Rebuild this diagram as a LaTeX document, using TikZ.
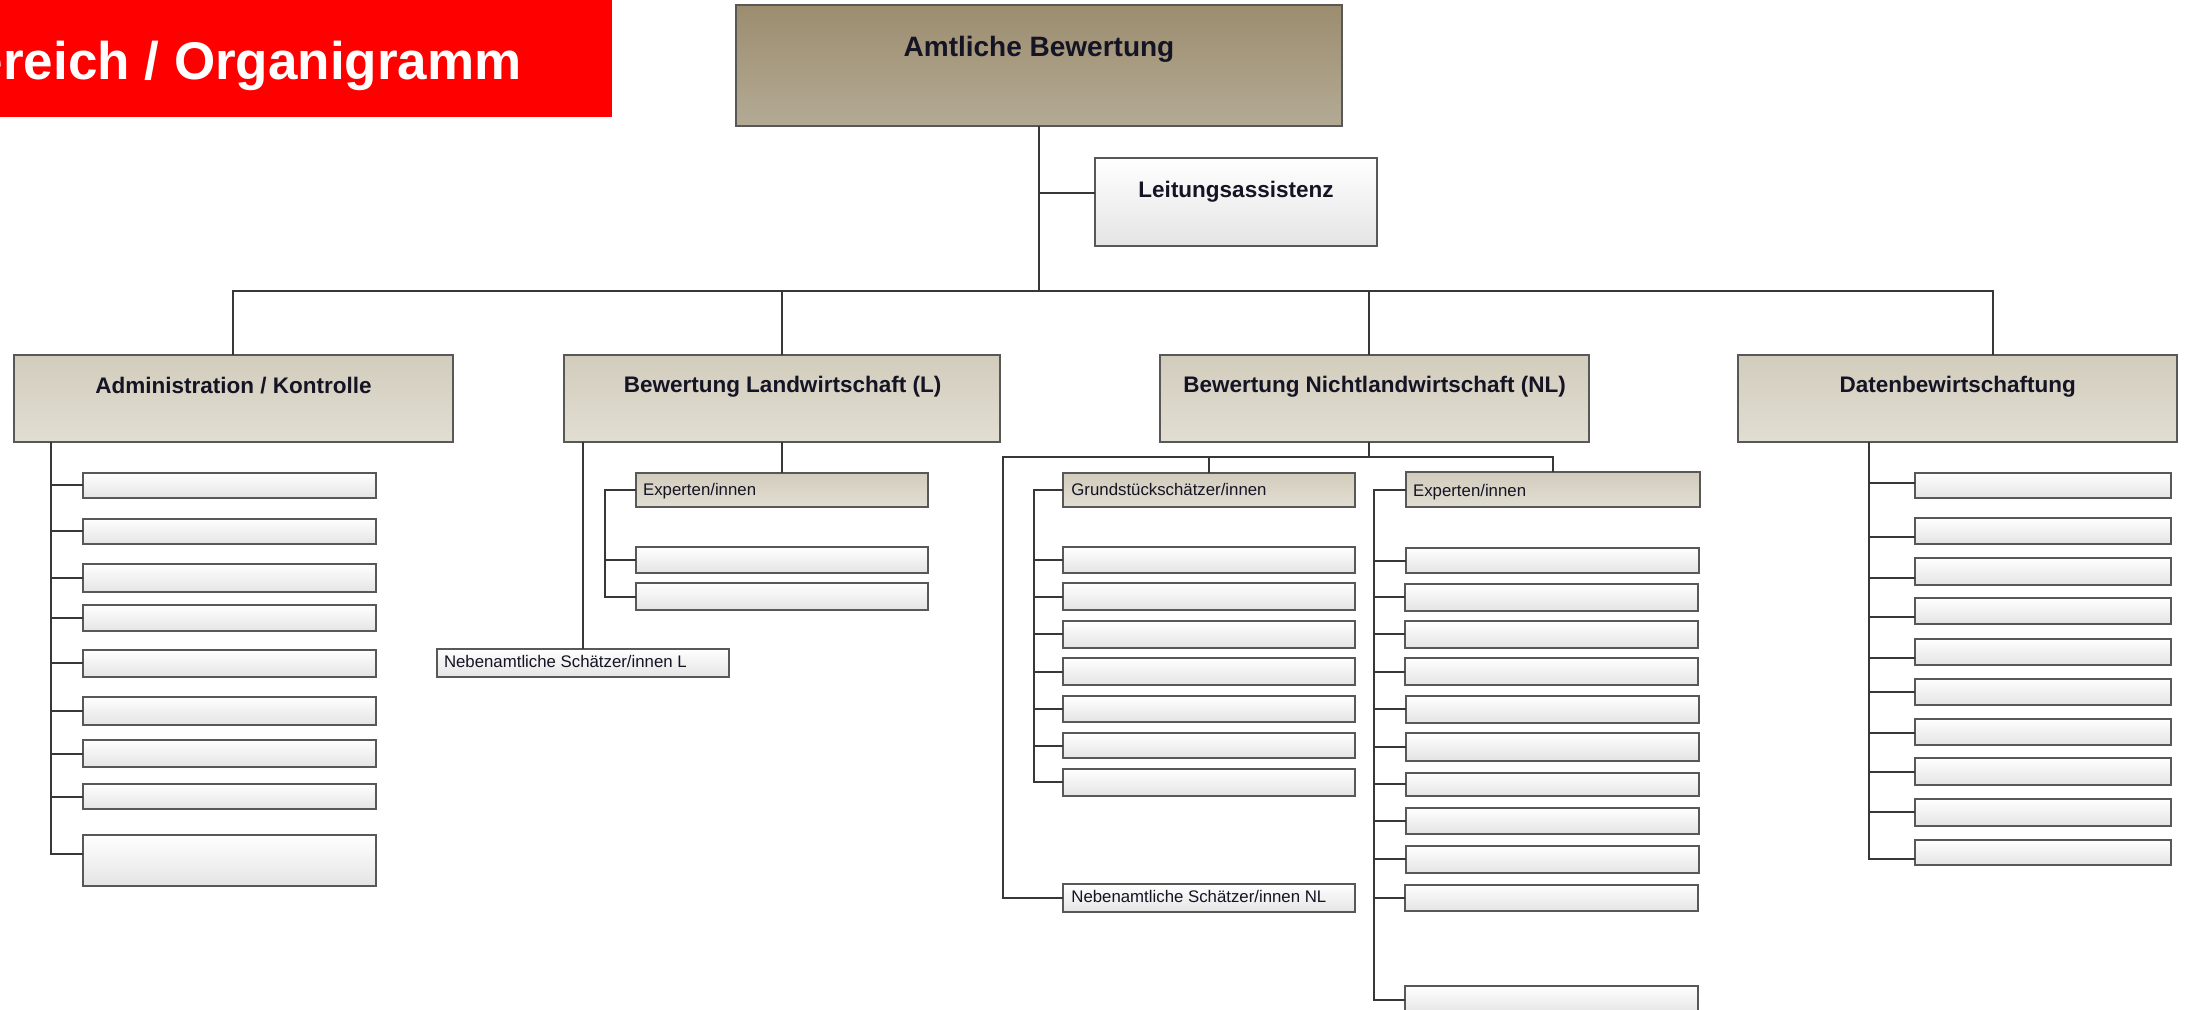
\documentclass[tikz,border=0pt]{standalone}
\usepackage{fontspec}
\setmainfont{Liberation Sans}
\usetikzlibrary{calc}
\definecolor{amtT}{RGB}{156,141,111}
\definecolor{amtB}{RGB}{180,170,148}
\definecolor{hdrT}{RGB}{210,204,188}
\definecolor{hdrB}{RGB}{225,222,210}
\definecolor{whB}{RGB}{228,228,228}
\definecolor{boxline}{RGB}{88,88,88}
\definecolor{connc}{RGB}{55,55,55}
\definecolor{txt}{RGB}{20,20,36}
\definecolor{titlered}{RGB}{255,0,0}
\tikzset{
  ob/.style={draw=boxline, line width=1pt, inner sep=0pt, outer sep=0pt},
  topbox/.style={ob, top color=amtT, bottom color=amtB},
  hdrbox/.style={ob, top color=hdrT, bottom color=hdrB},
  whbox/.style={ob, top color=white, bottom color=whB},
  redbox/.style={fill=titlered, draw=none, inner sep=0pt, outer sep=0pt},
  conn/.style={draw=connc, line width=1pt},
  ttext/.style={font=\bfseries\fontsize{26.5}{30}\selectfont, text=white, inner sep=0pt},
  amtext/.style={font=\bfseries\fontsize{14}{16}\selectfont, text=txt, inner sep=0pt},
  htext/.style={font=\bfseries\fontsize{11.25}{13}\selectfont, text=txt, inner sep=0pt},
  stext/.style={font=\fontsize{8.4}{10}\selectfont, text=txt, inner sep=0pt},
}
\newcommand\obox[6]{\node[#2, anchor=north west, minimum width={((#5)-(#3))*0.5pt}, minimum height={((#6)-(#4))*0.5pt}] (#1) at (#3,#4) {};}
\newcommand\kid[3]{\draw[conn] ($(#1 |- #2.west)+(0,#3)$) -- ($(#2.west)+(0,#3)$);}
\begin{document}
\begin{tikzpicture}[x=0.5pt, y=-0.5pt]
\useasboundingbox (0,0) rectangle (2190,1010);
\clip (0,0) rectangle (2190,1010);
% title
\obox{title}{redbox}{0}{0}{612}{117}
\node[ttext, anchor=base east] (title-t) at (522,79.3) {ereich / Organigramm};
% top
\obox{amt}{topbox}{736}{5}{1342}{126}
\node[amtext, anchor=base] (amt-t) at ($(amt.north)+(0,51.7)$) {Amtliche Bewertung};
\obox{leit}{whbox}{1095}{158}{1377}{246}
\node[htext, anchor=base] (leit-t) at ($(leit.north)+(0,40)$) {Leitungsassistenz};
% level 2
\obox{adm}{hdrbox}{13.5}{355}{452.5}{442.5}
\obox{bl}{hdrbox}{564}{355}{1000}{442.5}
\obox{bnl}{hdrbox}{1160}{355}{1589}{442.5}
\obox{dat}{hdrbox}{1738}{355}{2177.3}{442.5}
\node[htext, anchor=base] (adm-t) at ($(adm.north)+(0.5,39)$) {Administration / Kontrolle};
\node[htext, anchor=base] (bl-t) at ($(bl.north)+(0.5,38)$) {Bewertung Landwirtschaft (L)};
\node[htext, anchor=base] (bnl-t) at ($(bnl.north)+(0,38)$) {Bewertung Nichtlandwirtschaft (NL)};
\node[htext, anchor=base] (dat-t) at ($(dat.north)+(0,37.5)$) {Datenbewirtschaftung};
% top connectors
\coordinate (bus-c) at (1039,291);
\coordinate (bus-r) at (1993,291);
\coordinate (bnl-d) at (1369,291);
\coordinate (leit-j) at ($(leit.west)+(0,-9)$);
\draw[conn] (amt.south) -- (bus-c);
\draw[conn] (amt.south |- leit-j) -- (leit-j);
\draw[conn] (adm.north) -- (adm.north |- bus-c) -- (bus-r) -- (bus-r |- dat.north);
\draw[conn] (bl.north |- bus-c) -- (bl.north);
\draw[conn] (bnl-d) -- (bnl-d |- bnl.north);
% Administration
\obox{a1}{whbox}{83}{472.9}{376}{497.9}
\obox{a2}{whbox}{83}{518.6}{376}{544.3}
\obox{a3}{whbox}{83}{564.3}{376}{591.8}
\obox{a4}{whbox}{83}{605}{376}{631.4}
\obox{a5}{whbox}{83}{650}{376}{676.8}
\obox{a6}{whbox}{83}{697.1}{376}{724.6}
\obox{a7}{whbox}{83}{740}{376}{767.1}
\obox{a8}{whbox}{83}{783.9}{376}{809.3}
\obox{a9}{whbox}{83}{835}{376}{886.4}
\coordinate (adm-sp) at (51,0);
\draw[conn] (adm-sp |- adm.south) -- ($(adm-sp |- a9.west)+(0,-7)$) -- ($(a9.west)+(0,-7)$);
\foreach \n in {a1,a2,a3,a4,a5,a6,a7,a8} {\kid{adm-sp}{\n}{0}}
% Landwirtschaft
\obox{exL}{hdrbox}{636}{472.7}{928}{506.7}
\node[stext, anchor=base west] (exL-t) at ($(exL.north west)+(6.7,23)$) {Experten/innen};
\obox{l1}{whbox}{636}{547.3}{928}{572.7}
\obox{l2}{whbox}{636}{583.3}{928}{610}
\obox{nebL}{whbox}{437}{649}{729}{677}
\node[stext, anchor=base west] (nebL-t) at ($(nebL.north west)+(6.6,18.5)$) {Nebenamtliche Schätzer/innen L};
\draw[conn] (exL.north |- bl.south) -- (exL.north);
\draw[conn] (nebL.north |- bl.south) -- (nebL.north);
\coordinate (exL-sp) at (605,0);
\draw[conn] (exL.west) -- (exL-sp |- exL.west) -- (exL-sp |- l2.west) -- (l2.west);
\kid{exL-sp}{l1}{0}
% Nichtlandwirtschaft
\obox{gr}{hdrbox}{1063}{472.7}{1355}{506.7}
\node[stext, anchor=base west] (gr-t) at ($(gr.north west)+(8,22.6)$) {Grundstückschätzer/innen};
\obox{exN}{hdrbox}{1406}{472.5}{1700}{506.7}
\node[stext, anchor=base west] (exN-t) at ($(exN.north west)+(6.7,23.9)$) {Experten/innen};
\obox{g1}{whbox}{1063}{547.3}{1355}{572.7}
\obox{g2}{whbox}{1063}{583.3}{1355}{610}
\obox{g3}{whbox}{1063}{621}{1355}{647.7}
\obox{g4}{whbox}{1063}{658.3}{1355}{685}
\obox{g5}{whbox}{1063}{695.7}{1355}{722.3}
\obox{g6}{whbox}{1063}{733}{1355}{758.3}
\obox{g7}{whbox}{1063}{769}{1355}{795.7}
\obox{nebNL}{whbox}{1063}{884.3}{1355}{911.7}
\node[stext, anchor=base west] (nebNL-t) at ($(nebNL.north west)+(8,18.4)$) {Nebenamtliche Schätzer/innen NL};
\obox{e1}{whbox}{1406}{547.7}{1699.3}{573.3}
\obox{e2}{whbox}{1404.7}{583.6}{1697.7}{610.9}
\obox{e3}{whbox}{1404.7}{620.8}{1697.7}{647.7}
\obox{e4}{whbox}{1404.7}{658.4}{1697.7}{685.3}
\obox{e5}{whbox}{1406}{695.6}{1699.3}{722.9}
\obox{e6}{whbox}{1406}{733.2}{1699.3}{760.5}
\obox{e7}{whbox}{1406}{772.5}{1699.3}{796.4}
\obox{e8}{whbox}{1406}{808}{1699.3}{833.6}
\obox{e9}{whbox}{1406}{845.6}{1699.3}{872.5}
\obox{e10}{whbox}{1404.7}{884.5}{1697.7}{911.4}
\obox{e11}{whbox}{1404.7}{986}{1697.7}{1014}
\coordinate (nl-j) at (1369,457);
\coordinate (nl-l) at (1003,457);
\draw[conn] (nl-j |- bnl.south) -- (nl-j);
\draw[conn] (nebNL.west) -- (nl-l |- nebNL.west) -- (nl-l) -- (exN.north |- nl-l) -- (exN.north);
\draw[conn] (gr.north |- nl-l) -- (gr.north);
\coordinate (gr-sp) at (1034,0);
\draw[conn] (gr.west) -- (gr-sp |- gr.west) -- (gr-sp |- g7.west) -- (g7.west);
\foreach \n in {g1,g2,g3,g4,g5,g6} {\kid{gr-sp}{\n}{0}}
\coordinate (exN-sp) at (1374,0);
\draw[conn] (exN.west) -- (exN-sp |- exN.west) -- (exN-sp |- e11.west) -- (e11.west);
\foreach \n in {e1,e2,e3,e4,e5,e6,e7,e8,e9,e10} {\kid{exN-sp}{\n}{0}}
% Datenbewirtschaftung
\obox{d1}{whbox}{1915}{472.6}{2170.7}{498.4}
\obox{d2}{whbox}{1915}{518.4}{2170.7}{544.2}
\obox{d3}{whbox}{1915}{557.6}{2170.7}{584.8}
\obox{d4}{whbox}{1915}{598.3}{2170.7}{624.1}
\obox{d5}{whbox}{1915}{638.9}{2170.7}{664.7}
\obox{d6}{whbox}{1915}{678.5}{2170.7}{705}
\obox{d7}{whbox}{1915}{718.8}{2170.7}{744.6}
\obox{d8}{whbox}{1915}{758.4}{2170.7}{785.2}
\obox{d9}{whbox}{1915}{799}{2170.7}{825.5}
\obox{d10}{whbox}{1915}{840}{2170.7}{865.1}
\coordinate (dat-sp) at (1869,0);
\draw[conn] (dat-sp |- dat.south) -- ($(dat-sp |- d10.west)+(0,6.8)$) -- ($(d10.west)+(0,6.8)$);
\kid{dat-sp}{d1}{-2.6}
\kid{dat-sp}{d2}{6}
\kid{dat-sp}{d3}{6.4}
\kid{dat-sp}{d4}{5.7}
\kid{dat-sp}{d5}{6}
\kid{dat-sp}{d6}{0}
\kid{dat-sp}{d7}{1}
\kid{dat-sp}{d8}{0}
\kid{dat-sp}{d9}{0}
\end{tikzpicture}
\end{document}
